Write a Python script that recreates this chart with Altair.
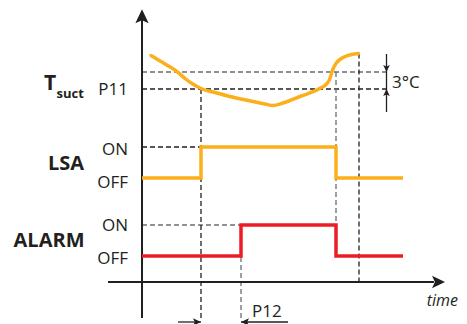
import altair as alt
import pandas as pd

# ---- data (time units along x, signal level along y) ----
curve_t = [9, 23, 36, 43, 50, 59, 73, 88, 111, 123, 131, 141, 158, 178, 185, 188, 190, 194, 203, 216.5]
curve_temp = [226.5, 218, 209.7, 203.5, 198.5, 193.5, 189.5, 185.5, 180.5, 178, 176.5, 179, 185.5, 193.7, 198.5, 203.5, 210.5, 218.5, 225.5, 228.5]

P11 = 193
P11_3 = 210
LSA_OFF, LSA_ON = 104, 135
AL_OFF, AL_ON = 26, 57

lsa_t = [0, 59, 59, 194, 194, 261]
lsa_v = [LSA_OFF, LSA_OFF, LSA_ON, LSA_ON, LSA_OFF, LSA_OFF]
alarm_t = [0, 99, 99, 194, 194, 261]
alarm_v = [AL_OFF, AL_OFF, AL_ON, AL_ON, AL_OFF, AL_OFF]

# dashed guide segments: x, x2, y, y2, colour
guide_x = [0, 0, 0, 0, 59, 99, 194, 217]
guide_x2 = [248, 248, 59, 99, 59, 99, 194, 217]
guide_y = [P11_3, P11, LSA_ON, AL_ON, P11, AL_ON, P11_3, 228.5]
guide_y2 = [P11_3, P11, LSA_ON, AL_ON, -38, -38, AL_ON, 0]
guide_c = ["#6d6e71", "#231f20", "#231f20", "#6d6e71", "#231f20", "#6d6e71", "#6d6e71", "#231f20"]

XD = [-134, 317]
YD = [-42, 274]
xs = alt.Scale(domain=XD, nice=False, zero=False)
ys = alt.Scale(domain=YD, nice=False, zero=False)
FONT = "Open Sans"
INK = "#231f20"
ORANGE = "#fbb01b"
RED = "#ed1c24"

def X(f="x"):
    return alt.X(f"{f}:Q", scale=xs, axis=None)

def Y(f="y"):
    return alt.Y(f"{f}:Q", scale=ys, axis=None)

guides = pd.DataFrame({"x": guide_x, "x2": guide_x2, "y": guide_y, "y2": guide_y2, "c": guide_c})
guide_layer = alt.Chart(guides).mark_rule(strokeDash=[5, 3], strokeWidth=1.3).encode(
    x=X(), x2="x2:Q", y=Y(), y2="y2:Q", color=alt.Color("c:N", scale=None)
)

# axes
axes_df = pd.DataFrame({"x": [0, -34], "x2": [0, 292], "y": [-36, 0], "y2": [262, 0]})
axes_layer = alt.Chart(axes_df).mark_rule(color=INK, strokeWidth=2).encode(
    x=X(), x2="x2:Q", y=Y(), y2="y2:Q"
)

ARROW = "M0,-1L0.95,1L0,0.55L-0.95,1Z"
arr_df = pd.DataFrame({
    "x": [0, 296.5, 244.5, 244.5, 55, 103],
    "y": [265.7, 0, 213.5, 189.5, -40, -40],
    "a": [0, 90, 180, 0, 90, 270],
    "s": [196, 169, 49, 49, 64, 64],
})
arrow_layer = alt.Chart(arr_df).mark_point(shape=ARROW, filled=True, color=INK, opacity=1, strokeWidth=0).encode(
    x=X(), y=Y(), angle=alt.Angle("a:Q", scale=None), size=alt.Size("s:Q", scale=None)
)

# dimension lines (3°C and P12)
dim_df = pd.DataFrame({"x": [244.5, 36, 99], "x2": [244.5, 59, 146], "y": [228, -40, -40], "y2": [170, -40, -40]})
dim_layer = alt.Chart(dim_df).mark_rule(color=INK, strokeWidth=1.3).encode(
    x=X(), x2="x2:Q", y=Y(), y2="y2:Q"
)

curve_df = pd.DataFrame({"x": curve_t, "y": curve_temp})
curve_layer = alt.Chart(curve_df).mark_line(color=ORANGE, strokeWidth=3.5, interpolate="monotone", strokeCap="round").encode(
    x=X(), y=Y()
)

lsa_df = pd.DataFrame({"x": lsa_t, "y": lsa_v, "o": range(len(lsa_t))})
lsa_layer = alt.Chart(lsa_df).mark_line(color=ORANGE, strokeWidth=3.5).encode(
    x=X(), y=Y(), order="o:Q"
)
alarm_df = pd.DataFrame({"x": alarm_t, "y": alarm_v, "o": range(len(alarm_t))})
alarm_layer = alt.Chart(alarm_df).mark_line(color=RED, strokeWidth=3.5).encode(
    x=X(), y=Y(), order="o:Q"
)

# texts
state_text = ["P11", "ON", "OFF", "ON", "OFF"]
state_y = [187, 127, 94.3, 51, 18]
st_df = pd.DataFrame({"x": [-14] * 5, "y": state_y, "t": state_text})
st_layer = alt.Chart(st_df).mark_text(align="right", baseline="alphabetic", font=FONT, fontSize=17, color=INK).encode(
    x=X(), y=Y(), text="t:N"
)

sig_df = pd.DataFrame({"x": [-58, -57.5], "y": [112, 35.3], "t": ["LSA", "ALARM"]})
sig_layer = alt.Chart(sig_df).mark_text(align="right", baseline="alphabetic", font=FONT, fontSize=20, fontWeight="bold", color=INK).encode(
    x=X(), y=Y(), text="t:N"
)

t_layer = alt.Chart(pd.DataFrame({"x": [-98], "y": [192], "t": ["T"]})).mark_text(
    align="left", baseline="alphabetic", font=FONT, fontSize=21, fontWeight="bold", color=INK
).encode(x=X(), y=Y(), text="t:N")
sub_layer = alt.Chart(pd.DataFrame({"x": [-85.5], "y": [184], "t": ["suct"]})).mark_text(
    align="left", baseline="alphabetic", font=FONT, fontSize=13, fontWeight="bold", color=INK
).encode(x=X(), y=Y(), text="t:N")

misc_df = pd.DataFrame({"x": [250, 110], "y": [193.7, -34.7], "t": ["3°C", "P12"]})
misc_layer = alt.Chart(misc_df).mark_text(align="left", baseline="alphabetic", font=FONT, fontSize=17, color=INK).encode(
    x=X(), y=Y(), text="t:N"
)
time_layer = alt.Chart(pd.DataFrame({"x": [316], "y": [-23.7], "t": ["time"]})).mark_text(
    align="right", baseline="alphabetic", font=FONT, fontSize=16, fontStyle="italic", color=INK
).encode(x=X(), y=Y(), text="t:N")

chart = alt.layer(
    guide_layer, axes_layer, dim_layer, arrow_layer, curve_layer, lsa_layer, alarm_layer,
    st_layer, sig_layer, t_layer, sub_layer, misc_layer, time_layer
).properties(
    width=451, height=316, padding=0, autosize=alt.AutoSizeParams(type="none")
).configure_view(stroke=None)

chart.save("out.html", embed_options={"renderer": "svg", "actions": False})
